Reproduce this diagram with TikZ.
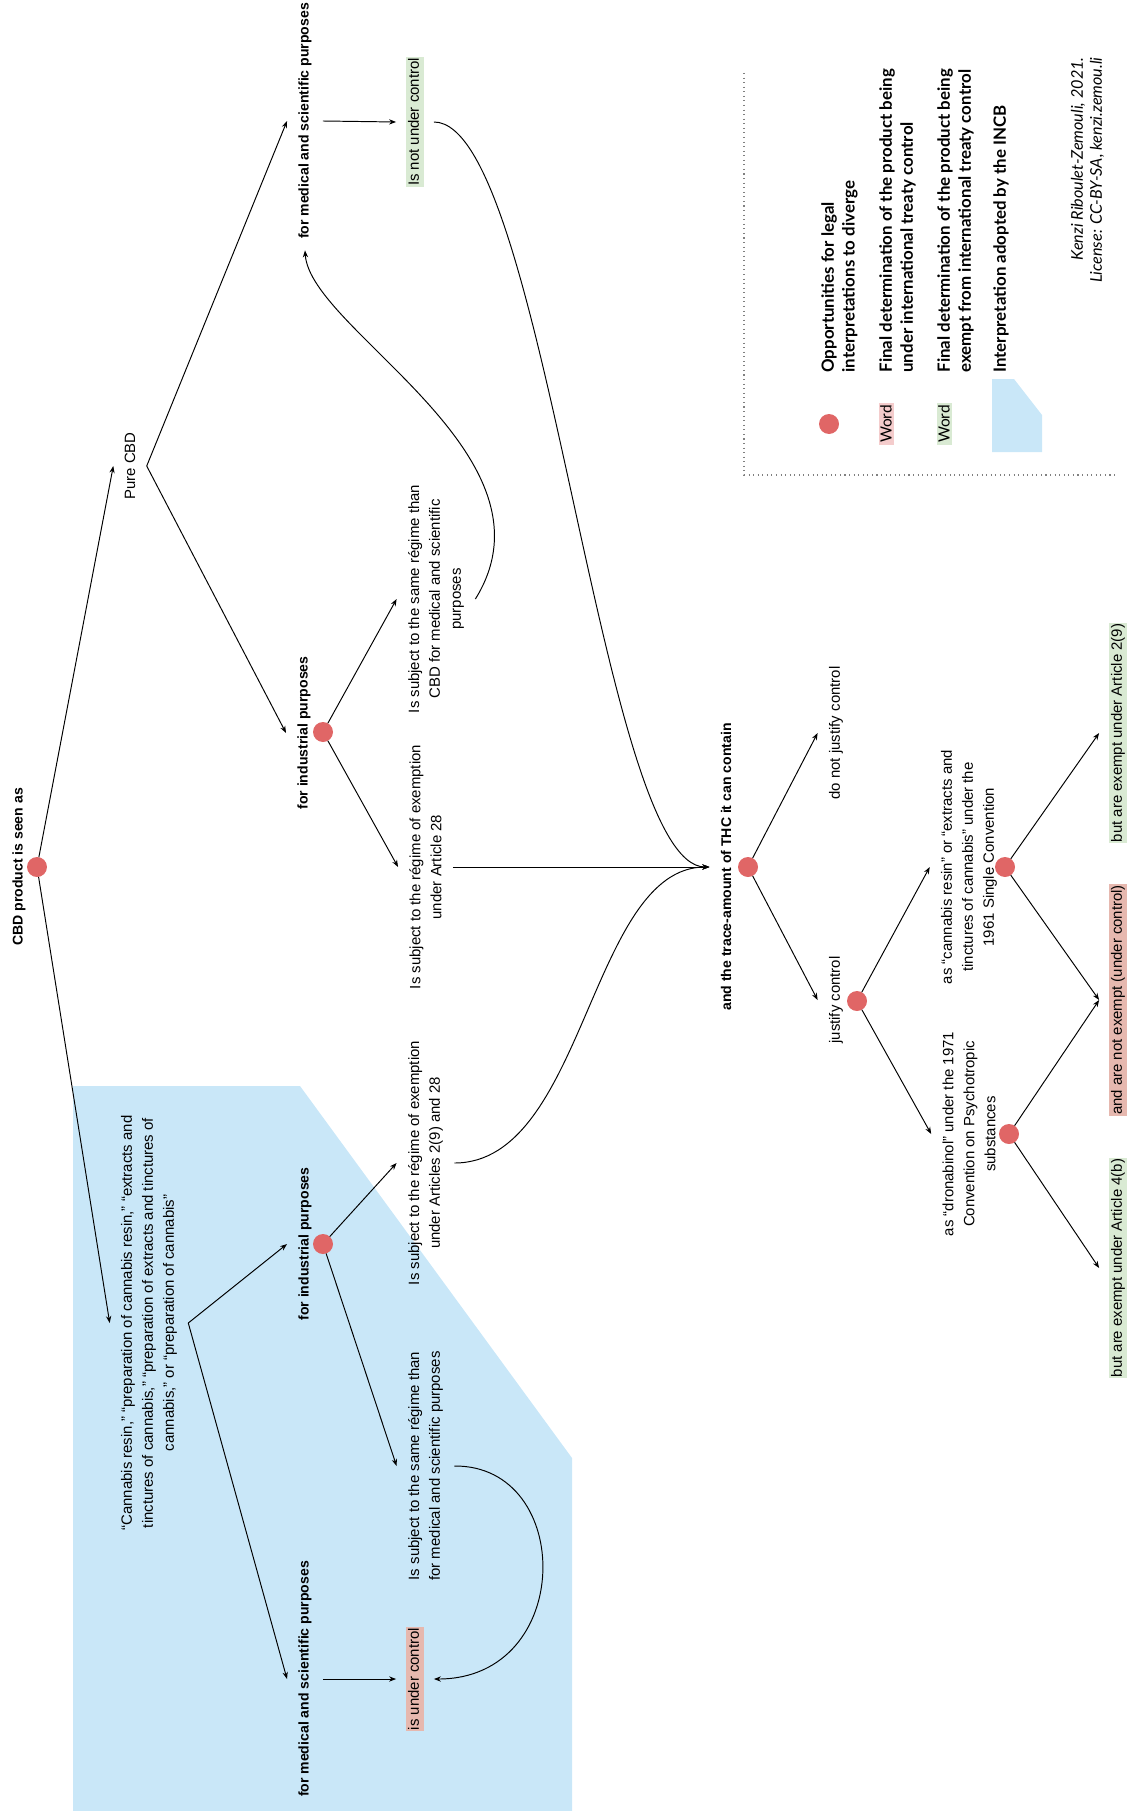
\documentclass[tikz,border=0pt]{standalone}
\usepackage{fontspec}
\setmainfont{Liberation Sans}
\newfontfamily\legendfont{Lato}
\usetikzlibrary{arrows.meta}
\definecolor{dotred}{HTML}{E06666}
\definecolor{ctrlpink}{HTML}{E6B8AF}
\definecolor{wordpink}{HTML}{F4CCCC}
\definecolor{freegreen}{HTML}{D9EAD3}
\definecolor{incbblue}{HTML}{C9E7F8}
\begin{document}
\begin{tikzpicture}[x=0.02cm, y=-0.02cm,
    txt/.style={rotate=90, align=center, inner sep=1pt, outer sep=5.5pt,
      font=\fontsize{8.5}{11.9}\selectfont},
    head/.style={txt, font=\fontsize{8}{11}\selectfont\bfseries},
    hl/.style={rotate=90, inner xsep=0.5pt, inner ysep=1.2pt, outer sep=5.5pt,
      text height=6.3pt, text depth=1.8pt, font=\fontsize{8.5}{11.9}\selectfont},
    fork/.style={circle, fill=dotred, minimum size=0.4cm, inner sep=0pt, outer sep=0pt},
    legtxt/.style={rotate=90, align=left, inner sep=0pt,
      font=\legendfont\fontsize{9.6}{11.9}\selectfont\bfseries},
    wordbox/.style={rotate=90, inner sep=1pt, font=\legendfont\fontsize{8.8}{10}\selectfont},
    >={Stealth[length=4pt,width=3pt]}, line width=0.55pt]
  \useasboundingbox (0,0) rectangle (1137,1811);
  \fill[incbblue] (73,1086) -- (300,1086) -- (572,1458) -- (572,1811) -- (73,1811) -- cycle;

  \node[head] (root) at (19,867) {CBD product is seen as};
  \node[fork] (rootDot) at (37,867) {};
  \node[txt] (pure) at (130,466) {Pure CBD};
  \node[txt] (resin) at (149,1323) {“Cannabis resin,” “preparation of cannabis resin,” “extracts and\\tinctures of cannabis,” “preparation of extracts and tinctures of\\cannabis,” or “preparation of cannabis”};
  \node[head] (medTop) at (305,121) {for medical and scientific purposes};
  \node[head] (indTop) at (304,733) {for industrial purposes};
  \node[fork] (indTopDot) at (323,732) {};
  \node[head] (indLow) at (305,1244) {for industrial purposes};
  \node[fork] (indLowDot) at (323,1244) {};
  \node[head] (medLow) at (305,1679) {for medical and scientific purposes};
  \node[hl, fill=freegreen] (notCtrl) at (415,122) {Is not under control};
  \node[txt] (sameTop) at (436,599) {Is subject to the same régime than\\CBD for medical and scientific\\purposes};
  \node[txt] (art28) at (425.5,867) {Is subject to the régime of exemption\\under Article 28};
  \node[txt] (art29) at (425.5,1163) {Is subject to the régime of exemption\\under Articles 2(9) and 28};
  \node[txt] (sameLow) at (425.5,1466) {Is subject to the same régime than\\for medical and scientific purposes};
  \node[hl, fill=ctrlpink] (isCtrl) at (415,1679) {is under control};
  \node[head] (thc) at (726,867) {and the trace-amount of THC it can contain};
  \node[fork] (thcDot) at (748,867) {};
  \node[txt] (noJust) at (836,733) {do not justify control};
  \node[txt] (just) at (836,1000) {justify control};
  \node[fork] (justDot) at (857,1001) {};
  \node[txt] (single) at (969,867) {as “cannabis resin” or “extracts and\\tinctures of cannabis” under the\\1961 Single Convention};
  \node[fork] (singleDot) at (1005,867) {};
  \node[txt] (drona) at (969,1134) {as “dronabinol” under the 1971\\Convention on Psychotropic\\substances};
  \node[fork] (dronaDot) at (1009,1134) {};
  \node[hl, fill=freegreen] (ex29) at (1118,733) {but are exempt under Article 2(9)};
  \node[hl, fill=ctrlpink] (notEx) at (1118,1000) {and are not exempt (under control)};
  \node[hl, fill=freegreen] (ex4b) at (1118,1268) {but are exempt under Article 4(b)};

  \begin{scope}[->]
    \draw (rootDot) -- (pure.north);
    \draw (rootDot) -- (resin.north);
    \draw (pure.south) -- (medTop.north);
    \draw (pure.south) -- (indTop.north);
    \draw (medTop.south) -- (notCtrl.north);
    \draw (indTopDot) -- (sameTop.north);
    \draw (indTopDot) -- (art28.north);
    \draw (sameTop.south) .. controls (565,455) and (310,330) .. (medTop.west);
    \draw (notCtrl.south) .. controls (545,122) and (600,867) .. (thc.north);
    \draw (art28.south) -- (thc.north);
    \draw (art29.south) .. controls (585,1163) and (590,867) .. (thc.north);
    \draw (resin.south) -- (indLow.north);
    \draw (resin.south) -- (medLow.north);
    \draw (indLowDot) -- (art29.north);
    \draw (indLowDot) -- (sameLow.north);
    \draw (medLow.south) -- (isCtrl.north);
    \draw (sameLow.south) .. controls (575,1465) and (575,1679) .. (isCtrl.south);
    \draw (thcDot) -- (noJust.north);
    \draw (thcDot) -- (just.north);
    \draw (justDot) -- (single.north);
    \draw (justDot) -- (drona.north);
    \draw (singleDot) -- (ex29.north);
    \draw (singleDot) -- (notEx.north);
    \draw (dronaDot) -- (notEx.north);
    \draw (dronaDot) -- (ex4b.north);
  \end{scope}

  \draw[dotted, gray, line width=0.6pt] (744,73) -- (744,475) -- (1117,475);
  \node[fork] (legDot) at (829,424) {};
  \node[wordbox, fill=wordpink] (legPink) at (886,424) {Word};
  \node[wordbox, fill=freegreen] (legGreen) at (944,424) {Word};
  \fill[incbblue] (992,379) -- (1014,379) -- (1042,415) -- (1042,452) -- (992,452) -- cycle;
  \node[legtxt, anchor=west] (legOpp) at (839.5,373) {Opportunities for legal\\interpretations to diverge};
  \node[legtxt, anchor=west] (legUnder) at (897.5,373) {Final determination of the product being\\under international treaty control};
  \node[legtxt, anchor=west] (legExempt) at (955.5,373) {Final determination of the product being\\exempt from international treaty control};
  \node[legtxt, anchor=west] (legIncb) at (1001,373) {Interpretation adopted by the INCB};
  \node[rotate=90, align=right, inner sep=0pt, anchor=east,
    font=\legendfont\fontsize{9.2}{10.8}\selectfont\itshape] (credit) at (1087.5,57)
    {Kenzi Riboulet-Zemouli, 2021.\\License: CC-BY-SA, kenzi.zemou.li};
\end{tikzpicture}
\end{document}
